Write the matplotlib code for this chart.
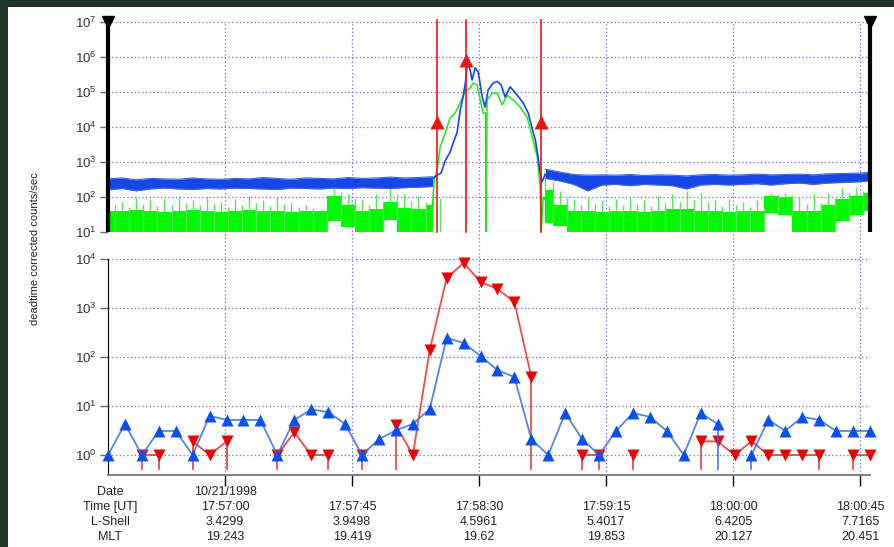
import numpy as np
import matplotlib.pyplot as plt
from matplotlib import transforms
from matplotlib.patches import Rectangle

plt.rcParams['font.family'] = ['Liberation Sans', 'DejaVu Sans']
plt.rcParams['mathtext.default'] = 'regular'

# time axis in seconds relative to 17:57:00 UT
T0 = -41.5
SPAN = 270.0

# --- bottom panel: 6 s integrated counts (0 = no counts) ---
bin_t = T0 + 6.0 * np.arange(46)
blue_bins = [1, 4.3, 1, 3.1, 3.1, 1, 6.3, 5.2, 5.2, 5.2,
             1, 5.2, 8.5, 7.5, 4.3, 1, 2.1, 3.2, 4.3, 8.7,
             245, 194, 105, 54, 39, 2.1, 1, 7.2, 2.1, 1,
             3.1, 7.2, 6, 3.1, 1, 7.2, 4.3, 0, 1, 5.2,
             3.1, 6, 5.2, 3.1, 3.1, 3.1]
red_bins = [0, 0, 1, 1, 0, 1.9, 1, 1.9, 0, 0,
            1, 2.9, 1, 1, 0, 1, 0, 4.1, 1, 138,
            4100, 8300, 3400, 2450, 1320, 39, 0, 0, 1, 1,
            0, 1, 0, 0, 0, 1.9, 1.9, 1, 1.9, 1,
            1, 1, 1, 0, 1, 1]

# --- top panel: high resolution rates ---
# quiet intervals, sampled every 5 s (band edges)
quiet_left_t = T0 + 5.0 * np.arange(24)
quiet_right_t = 113.5 + 5.0 * np.arange(24)

blue_hi_left = [330, 350, 310, 340, 330, 320, 350, 330, 320, 340, 330, 360,
                340, 320, 350, 340, 330, 360, 340, 350, 370, 350, 360, 380]
blue_lo_left = [160, 175, 150, 170, 180, 170, 165, 175, 170, 180, 175, 170,
                165, 180, 175, 170, 180, 175, 185, 180, 175, 185, 190, 200]
blue_hi_right = [620, 520, 440, 420, 430, 420, 440, 410, 430, 420, 400, 430,
                 440, 420, 430, 450, 430, 440, 450, 430, 460, 470, 480, 500]
blue_lo_right = [340, 290, 230, 150, 220, 230, 210, 230, 220, 210, 170, 220,
                 230, 220, 230, 240, 220, 240, 250, 230, 250, 260, 270, 290]

green_lo_left = [10, 10, 10, 10, 10, 10, 10, 10, 10, 10, 10, 10,
                 10, 10, 10, 10, 20, 14, 10, 10, 22, 10, 10, 10]
green_hi_left = [40, 40, 42, 40, 38, 40, 42, 40, 38, 40, 42, 40,
                 40, 38, 40, 40, 110, 60, 40, 45, 70, 50, 45, 60]
green_pk_left = [90, 70, 100, 80, 90, 110, 80, 100, 70, 90, 110, 80,
                 100, 70, 60, 40, 170, 120, 90, 120, 200, 120, 110, 150]
green_lo_right = [18, 15, 10, 10, 10, 10, 10, 10, 10, 10, 10, 10,
                  10, 10, 10, 10, 35, 30, 10, 10, 10, 20, 30, 40]
green_hi_right = [160, 60, 40, 40, 38, 40, 40, 38, 40, 45, 45, 40,
                  40, 38, 40, 40, 110, 100, 40, 40, 60, 90, 110, 130]
green_pk_right = [450, 150, 90, 100, 80, 90, 100, 80, 110, 120, 150, 130,
                  80, 90, 70, 80, 130, 130, 100, 120, 130, 180, 190, 200]

# event interval
ev_blue_t = [73.4, 75.1, 76.5, 78.0, 79.7, 80.8, 82.2, 83.3, 84.3, 85.2,
             85.8, 86.8, 87.5, 88.6, 89.7, 91.1, 92.1, 93.2, 95.0, 96.4,
             97.8, 99.2, 101.0, 103.5, 105.6, 107.4, 108.8, 109.9, 110.9, 111.6,
             112.3, 113.4]
ev_blue = [330, 420, 480, 1100, 1900, 3500, 7000, 30000, 72000, 200000,
           670000, 430000, 220000, 490000, 370000, 72000, 37000, 115000, 180000, 200000,
           160000, 72000, 140000, 81000, 49000, 25000, 9000, 4300, 1400, 490,
           270, 450]
ev_green_t = [73.5, 74.1, 75.1, 76.2, 78.0, 79.7, 81.5, 83.3, 85.0, 86.8,
              87.9, 89.3, 90.4, 91.4, 92.3, 92.5, 92.8, 94.6, 96.4, 98.2,
              99.9, 102.1, 104.5, 107.0, 109.1, 110.6, 111.6, 112.0, 112.7, 113.5]
ev_green = [60, 300, 590, 2700, 6800, 18000, 25000, 49000, 100000, 130000,
            180000, 160000, 59000, 25000, 25000, 10, 59000, 93000, 93000, 43000,
            81000, 59000, 37000, 19000, 4300, 1400, 190, 10, 100, 80]

# event markers (time, level)
mark_t = [74.9, 85.5, 112.1]
mark_v = [13800, 810000, 13800]

# annotation table
tick_t = [0, 45, 90, 135, 180, 225]
time_lbl = ['17:57:00', '17:57:45', '17:58:30', '17:59:15', '18:00:00', '18:00:45']
lshell = ['3.4299', '3.9498', '4.5961', '5.4017', '6.4205', '7.7165']
mlt = ['19.243', '19.419', '19.62', '19.853', '20.127', '20.451']
date_lbl = '10/21/1998'

GRID = '#6a6ad4'
BLUE = '#1646e6'
GREEN = '#00f800'
RED = '#ee1515'

fig = plt.figure(figsize=(8.95, 5.47), dpi=100, facecolor='#1e3527')
fig.patches.append(Rectangle((8 / 895, 0), 1, 1 - 7 / 547, transform=fig.transFigure,
                             facecolor='white', edgecolor='none', zorder=-10))

L, W = 108 / 895, 762 / 895
top_b, top_t = 1 - 232 / 547, 1 - 22 / 547
bot_b, bot_t = 1 - 475 / 547, 1 - 259 / 547

# vertical grid running through both panels
ax_g = fig.add_axes([L, bot_b, W, top_t - bot_b], zorder=0)
ax_g.set_xlim(T0, T0 + SPAN)
ax_g.axis('off')
for t in tick_t:
    ax_g.axvline(t, color=GRID, ls=(0, (1, 2)), lw=0.9)

ax1 = fig.add_axes([L, top_b, W, top_t - top_b], zorder=1)
ax2 = fig.add_axes([L, bot_b, W, bot_t - bot_b], zorder=1)
for ax in (ax1, ax2):
    ax.set_facecolor('none')
    ax.set_xlim(T0, T0 + SPAN)
    ax.set_yscale('log')
    for s in ax.spines.values():
        s.set_visible(False)
    ax.tick_params(axis='y', which='major', length=6, width=1, color='#666666',
                   labelsize=9.5, labelcolor='#333333', pad=2)
    ax.tick_params(axis='y', which='minor', length=0)

# top panel
ax1.set_ylim(10, 1e7)
ax1.set_yticks([10 ** k for k in range(1, 8)])
ax1.tick_params(axis='x', bottom=False, labelbottom=False)
for k in range(1, 8):
    ax1.axhline(10 ** k, color=GRID, ls=(0, (1, 2)), lw=0.9, zorder=0)

for qt, lo, hi, pk in ((quiet_left_t, green_lo_left, green_hi_left, green_pk_left),
                       (quiet_right_t, green_lo_right, green_hi_right, green_pk_right)):
    ax1.fill_between(qt, lo, hi, step='mid', color=GREEN, lw=0, zorder=2)
    ax1.vlines(qt, hi, pk, color='#55e855', lw=1, zorder=2)
    ax1.vlines(qt + 2.5, lo, np.sqrt(np.multiply(hi, pk)), color='#55e855', lw=1, zorder=2)
for qt, lo, hi in ((quiet_left_t, blue_lo_left, blue_hi_left),
                   (quiet_right_t, blue_lo_right, blue_hi_right)):
    ax1.fill_between(qt, lo, hi, color=BLUE, lw=0, zorder=3)
    ax1.plot(qt, hi, color='#3c66e0', lw=0.8, zorder=3)
    ax1.plot(qt, lo, color='#3c66e0', lw=0.8, zorder=3)

ax1.plot(ev_green_t, ev_green, color='#22e622', lw=1.1, zorder=2)
ax1.plot(ev_blue_t, ev_blue, color=BLUE, lw=1.2, zorder=3)

for t, v in zip(mark_t, mark_v):
    ax1.plot([t, t], [10, 1.15e7], color=RED, lw=1.2, zorder=4, clip_on=False)
    ax1.plot(t, v, marker='^', color=RED, ms=10, mec='none', zorder=5, clip_on=False)

for t in (T0, T0 + SPAN):
    ax1.plot([t, t], [10, 1e7], color='black', lw=3, zorder=6, clip_on=False,
             solid_capstyle='butt')
    ax1.plot(t, 1e7, marker='v', color='black', ms=9, zorder=6, clip_on=False)

# bottom panel
ax2.set_ylim(10 ** -0.408, 1e4)
ax2.set_yticks([10 ** k for k in range(0, 5)])
for k in range(0, 5):
    ax2.axhline(10 ** k, color=GRID, ls=(0, (1, 2)), lw=0.9, zorder=0)
ax2.spines['left'].set_visible(True)
ax2.spines['left'].set_color('black')
ax2.spines['bottom'].set_visible(True)
ax2.spines['bottom'].set_color('#7a7a7a')
ax2.spines['bottom'].set_linewidth(1.3)
ax2.set_xticks(tick_t)
ax2.tick_params(axis='x', length=8, width=1, color='black', labelbottom=False)

floor = 10 ** -0.286


def draw_counts(ax, vals, line_c, mark_c, marker, z):
    v = np.asarray(vals, dtype=float)
    shown = np.where(v > 0, v, np.nan)
    ax.plot(bin_t, shown, color=line_c, lw=1.3, alpha=0.85, zorder=z)
    n = len(v)
    for i in range(n):
        if v[i] > 0 and ((i > 0 and v[i - 1] == 0) or (i < n - 1 and v[i + 1] == 0)):
            ax.plot([bin_t[i], bin_t[i]], [floor, v[i]], color=line_c, lw=1.3,
                    alpha=0.85, zorder=z)
    ax.plot(bin_t, shown, ls='none', marker=marker, ms=8.5, color=mark_c, mec='none',
            zorder=z + 0.5, clip_on=False)


draw_counts(ax2, red_bins, '#e23030', '#f00000', 'v', 3)
draw_counts(ax2, blue_bins, '#3a6fd8', '#0a50f0', '^', 4)

# labels and time table
fig.text(0.039, 0.545, 'deadtime corrected counts/sec', rotation=90, ha='center',
         va='center', fontsize=8, color='#222222')

trans = transforms.blended_transform_factory(ax2.transData, fig.transFigure)
row_y = [1 - 492 / 547, 1 - 507 / 547, 1 - 522 / 547, 1 - 537 / 547]
for lbl, y in zip(['Date', 'Time [UT]', 'L-Shell', 'MLT'], row_y):
    fig.text(110 / 895, y, lbl, ha='center', va='center', fontsize=9, color='#222222')
ax2.text(tick_t[0], row_y[0], date_lbl, transform=trans, ha='center', va='center',
         fontsize=9, color='#222222')
for t, a, b, c in zip(tick_t, time_lbl, lshell, mlt):
    for y, s in zip(row_y[1:], (a, b, c)):
        ax2.text(t, y, s, transform=trans, ha='center', va='center', fontsize=9,
                 color='#222222')

fig.savefig('out.png', dpi=100, facecolor=fig.get_facecolor())
